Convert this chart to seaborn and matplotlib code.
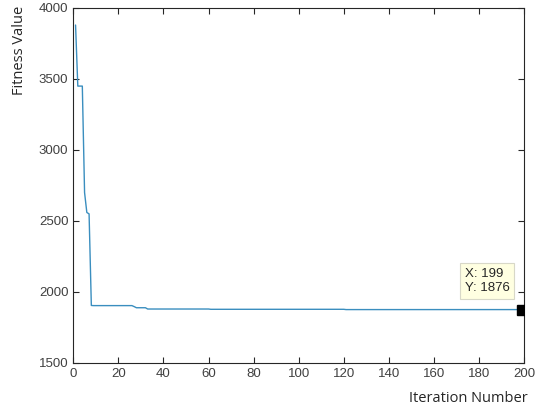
import numpy as np
import pandas as pd
import seaborn as sns
import matplotlib.pyplot as plt

# first iterations read one by one
early_values = [3880, 3450, 3450, 3450, 2700, 2560, 2550, 1905]
# plateaus afterwards: value and how many iterations it lasts
plateau_values = [1904, 1897, 1889, 1880, 1878, 1876]
plateau_lengths = [18, 1, 5, 28, 60, 79]

fitness = np.concatenate([early_values, np.repeat(plateau_values, plateau_lengths)])
iterations = np.arange(1, len(fitness) + 1)
df = pd.DataFrame({"Iteration": iterations, "Fitness": fitness})

tip_x, tip_y = 199, 1876

sns.set_style("white")
plt.rcParams['font.family'] = ['Liberation Sans', 'DejaVu Sans']

fig = plt.figure(figsize=(5.37, 4.12), dpi=100)
ax = fig.add_axes([0.1365, 0.119, 0.8395, 0.8616])

sns.lineplot(data=df, x="Iteration", y="Fitness", color="#3a8ebf", linewidth=1.0, ax=ax)
ax.plot([tip_x], [tip_y], marker="s", color="black", markersize=6.5, zorder=5)

ax.set_xlim(0, 200)
ax.set_ylim(1500, 4000)
ax.set_xticks(range(0, 201, 20))
ax.set_yticks(range(1500, 4001, 500))
ax.tick_params(direction="in", length=4, width=0.8, colors="#262626", labelcolor="#404040",
               labelsize=9.5, top=True, right=True, bottom=True, left=True)
for s in ax.spines.values():
    s.set_visible(True)
    s.set_color("#262626")
    s.set_linewidth(0.8)

ax.set_xlabel("")
ax.set_ylabel("")
fig.text(468 / 537, 1 - 399 / 412, "Iteration Number", ha="center", va="center",
         fontsize=10.5, family="Open Sans", color="#262626")
fig.text(20 / 537, 1 - 50 / 412, "Fitness Value", ha="center", va="center", rotation=90,
         fontsize=10.5, family="Open Sans", color="#262626")

ax.annotate(f"X: {tip_x}\nY: {tip_y}", xy=(tip_x, tip_y), xytext=(-41, 11),
            textcoords="offset points", fontsize=9.5, color="#262626", ha="left", va="bottom",
            linespacing=1.3,
            bbox=dict(boxstyle="square,pad=0.35", fc="#ffffe1", ec="#d8d8c8", lw=0.8))

fig.savefig("out.png", dpi=100)
